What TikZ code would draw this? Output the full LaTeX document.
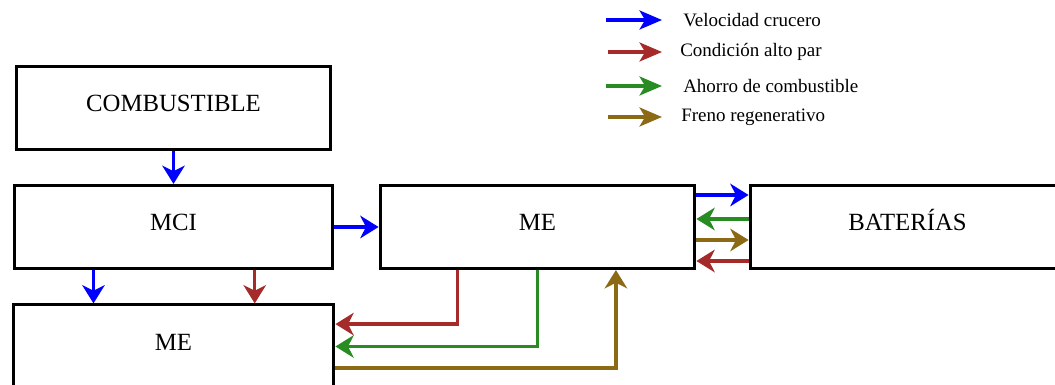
\documentclass[tikz,border=0pt]{standalone}
\usepackage{fontspec}
\setmainfont{Liberation Serif}
\usetikzlibrary{arrows.meta}

\definecolor{azul}{RGB}{0,0,255}
\definecolor{rojo}{RGB}{165,42,42}
\definecolor{verde}{RGB}{40,140,35}
\definecolor{cafe}{RGB}{140,105,20}

\begin{document}
\begin{tikzpicture}[x=0.025cm, y=-0.025cm,
    bloque/.style={draw, rectangle, line width=2.1pt, minimum width=7.87cm, minimum height=2.08cm,
        text height=12pt, text depth=7pt, font=\fontsize{17.6}{20}\selectfont},
    flecha/.style={line width=2.3pt, -{Stealth[length=13pt, width=16pt, inset=4pt]}},
    leyenda/.style={line width=2.3pt, -{Stealth[length=16pt, width=13.5pt, inset=4pt]}},
    etiqueta/.style={anchor=west, inner sep=0pt, font=\fontsize{13.5}{15}\selectfont}]
    \clip (0,0) rectangle (1055,385);

    % bloques
    \node[bloque] (comb) at (173.5,108) {COMBUSTIBLE};
    \node[bloque, minimum width=7.97cm] (mci) at (173.5,227) {MCI};
    \node[bloque, minimum width=8.02cm] (me2) at (173.5,346.5) {ME};
    \node[bloque] (me1) at (537.5,227) {ME};
    \node[bloque] (bat) at (907.5,227) {BATERÍAS};

    % leyenda
    \coordinate (v0) at (606,20);  \coordinate (v1) at (662,20);
    \coordinate (r0) at (608,52);  \coordinate (r1) at (662,52);
    \coordinate (g0) at (606,86);  \coordinate (g1) at (662,86);
    \coordinate (f0) at (608,117); \coordinate (f1) at (662,117);
    \node[etiqueta] (tv) at (683,20) {Velocidad crucero};
    \node[etiqueta] (tr) at (680,52) {Condición alto par};
    \node[etiqueta] (tg) at (683,86) {Ahorro de combustible};
    \node[etiqueta] (tf) at (681,117) {Freno regenerativo};
    \draw[leyenda, azul] (v0) -- (v1);
    \draw[leyenda, rojo] (r0) -- (r1);
    \draw[leyenda, verde] (g0) -- (g1);
    \draw[leyenda, cafe] (f0) -- (f1);

    % conexiones
    \draw[flecha, azul] (comb) -- (mci);
    \draw[flecha, azul] (mci) -- (me1);
    \draw[flecha, azul] ([xshift=-2cm]mci.south) -- ([xshift=-2cm]me2.north);
    \draw[flecha, rojo] ([xshift=2.03cm]mci.south) -- ([xshift=2.03cm]me2.north);

    \draw[flecha, azul] ([yshift=0.8cm]me1.east) -- ([yshift=0.8cm]bat.west);
    \draw[flecha, verde] ([yshift=0.2cm]bat.west) -- ([yshift=0.2cm]me1.east);
    \draw[flecha, cafe] ([yshift=-0.325cm]me1.east) -- ([yshift=-0.325cm]bat.west);
    \draw[flecha, rojo] ([yshift=-0.85cm]bat.west) -- ([yshift=-0.85cm]me1.east);

    \draw[flecha, rojo] ([xshift=-1.99cm]me1.south) |- ([yshift=0.56cm]me2.east);
    \draw[flecha, verde] (me1.south) |- (me2.east);
    \draw[flecha, cafe] ([yshift=-0.54cm]me2.east) -| ([xshift=1.96cm]me1.south);
\end{tikzpicture}
\end{document}
